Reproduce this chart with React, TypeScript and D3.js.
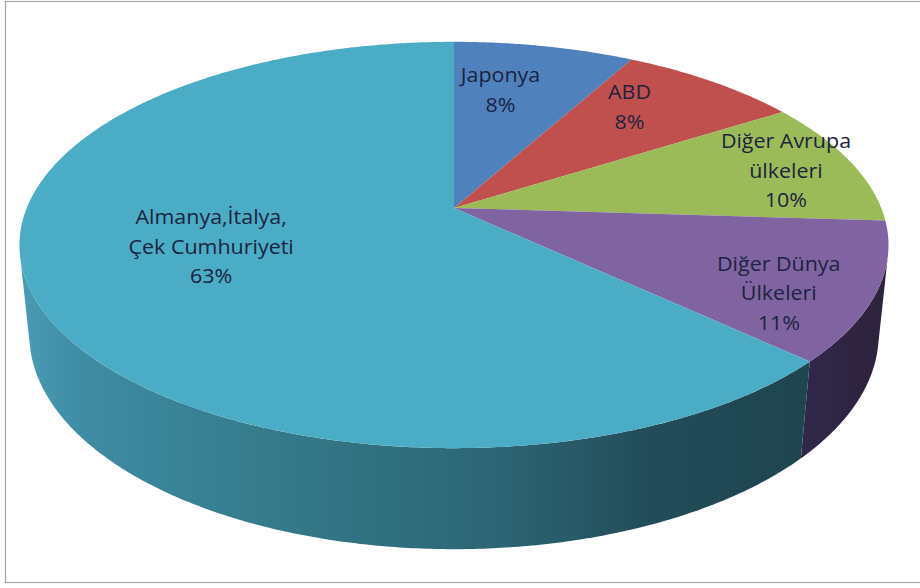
import React from "react";
import * as d3 from "d3";

// ---- data ----
const categories = [
  "Japonya",
  "ABD",
  "Diğer Avrupa ülkeleri",
  "Diğer Dünya Ülkeleri",
  "Almanya,İtalya, Çek Cumhuriyeti",
];
const values = [8, 8, 10, 11, 63];
const labelNameLines = [
  ["Japonya"],
  ["ABD"],
  ["Diğer Avrupa", "ülkeleri"],
  ["Diğer Dünya", "Ülkeleri"],
  ["Almanya,İtalya,", "Çek Cumhuriyeti"],
];
const topColors = ["#4F81BD", "#C0504D", "#9BBB59", "#8064A2", "#4BACC6"];

// ---- layout (label placement: angular nudge in degrees, radial fraction) ----
const labelAdjust: [number, number][] = [
  [-4.2, 0.69],
  [-4.8, 0.73],
  [0.4, 0.83],
  [6.1, 0.81],
  [4.6, 0.58],
];

const W = 920;
const H = 588;
const CX = 454;
const CY = 208;
const F = 2085;
const DIST = 4.88;
const SIN_PHI = 0.4598;
const COS_PHI = Math.sqrt(1 - SIN_PHI * SIN_PHI);
const THICK = 0.238;

function project(theta: number, r: number, y: number): [number, number] {
  const x = r * Math.sin(theta);
  const z = -r * Math.cos(theta);
  const d = DIST - z * COS_PHI - y * SIN_PHI;
  const v = y * COS_PHI - z * SIN_PHI;
  return [CX + (F * x) / d, CY - (F * v) / d];
}

function arcPoints(a: number, b: number, r: number, y: number): [number, number][] {
  const n = Math.max(2, Math.ceil(Math.abs(b - a) / (Math.PI / 360)));
  return d3.range(n + 1).map((i) => project(a + ((b - a) * i) / n, r, y));
}

const line = d3.line<[number, number]>();

export default function App() {
  const pie = d3
    .pie<number>()
    .sort(null)
    .value((d) => d)
    .startAngle(0)
    .endAngle(2 * Math.PI);
  const arcs = pie(values);
  const total = d3.sum(values);

  // visible outer wall range: cos(theta) < -1/(D cos phi)
  const lim = Math.acos(-1 / (DIST * COS_PHI));
  const visA = lim;
  const visB = 2 * Math.PI - lim;

  const walls = arcs
    .map((a, i) => {
      const s = Math.max(a.startAngle, visA);
      const e = Math.min(a.endAngle, visB);
      if (e <= s) return null;
      const top = arcPoints(s, e, 1, 0);
      const bottom = arcPoints(e, s, 1, -THICK);
      return { i, d: line([...top, ...bottom])! + "Z" };
    })
    .filter(Boolean) as { i: number; d: string }[];

  const tops = arcs.map((a, i) => {
    const pts = [project(0, 0, 0), ...arcPoints(a.startAngle, a.endAngle, 1, 0)];
    return { i, d: line(pts)! + "Z" };
  });

  const labels = arcs.map((a, i) => {
    const mid = (a.startAngle + a.endAngle) / 2 + (labelAdjust[i][0] * Math.PI) / 180;
    const [x, y] = project(mid, labelAdjust[i][1], 0);
    const pct = `${Math.round((values[i] / total) * 100)}%`;
    const lines = [...labelNameLines[i], pct];
    return { i, x, y, lines };
  });

  const lineH = 29.5;

  return (
    <svg
      width={W}
      height={H}
      style={{ position: "absolute", left: 0, top: 0, background: "#fff" }}
      fontFamily="'Open Sans', sans-serif"
    >
      <defs>
        <linearGradient id="wallTeal" gradientUnits="userSpaceOnUse" x1={20} y1={0} x2={810} y2={0}>
          <stop offset="0" stopColor="#4a9cb4" />
          <stop offset="0.08" stopColor="#3e8ca3" />
          <stop offset="0.35" stopColor="#337888" />
          <stop offset="0.6" stopColor="#2c6675" />
          <stop offset="0.8" stopColor="#224c59" />
          <stop offset="1" stopColor="#1e4550" />
        </linearGradient>
        <linearGradient id="wallPurple" gradientUnits="userSpaceOnUse" x1={800} y1={0} x2={885} y2={0}>
          <stop offset="0" stopColor="#31274a" />
          <stop offset="1" stopColor="#2d233c" />
        </linearGradient>
      </defs>
      <rect x={5.5} y={1.5} width={930} height={581} fill="#fff" stroke="#a6a6a6" strokeWidth={1.2} />
      {walls.map((w) => (
        <path
          key={"w" + w.i}
          d={w.d}
          fill={w.i === 4 ? "url(#wallTeal)" : w.i === 3 ? "url(#wallPurple)" : topColors[w.i]}
        />
      ))}
      {tops.map((t) => (
        <path key={"t" + t.i} d={t.d} fill={topColors[t.i]} />
      ))}
      {labels.map((l) => (
        <g key={"l" + l.i} transform={`translate(${l.x},${l.y}) scale(1.1,1)`}>
          <text textAnchor="middle" fontSize={19.5} fill="#1c2340">
            {l.lines.map((s, k) => (
              <tspan
                key={k}
                x={0}
                y={(k - (l.lines.length - 1) / 2) * lineH}
                dominantBaseline="central"
              >
                {s}
              </tspan>
            ))}
          </text>
        </g>
      ))}
    </svg>
  );
}
